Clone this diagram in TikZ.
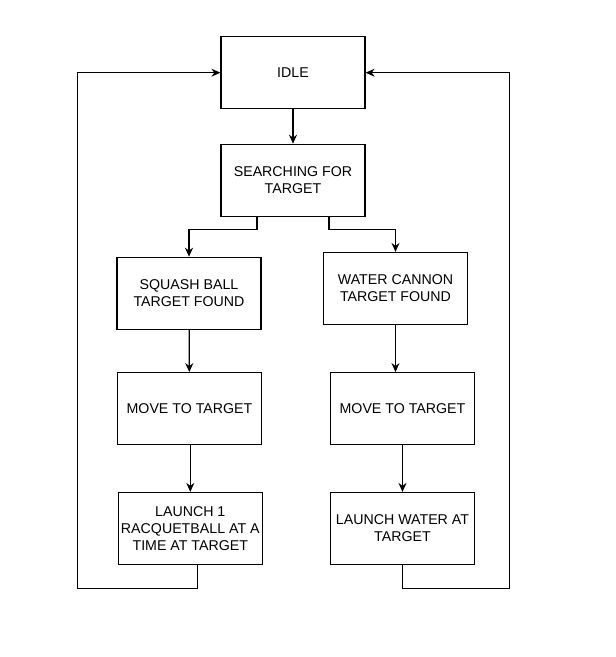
\documentclass[tikz,border=0pt]{standalone}
\usepackage{fontspec}
\setmainfont{Liberation Sans}
\usepackage{tikz}
\usetikzlibrary{positioning,calc,arrows.meta}

\begin{document}
\begin{tikzpicture}[x=1pt,y=-1pt,
    state/.style={draw, line width=1.2pt, minimum width=144pt, minimum height=72pt, align=center, inner xsep=0pt, inner ysep=2pt, font=\fontsize{14.2}{16.8}\selectfont},
    flow/.style={line width=1.2pt, -{Stealth[length=9pt,width=8pt]}}]
    \useasboundingbox (0,0) rectangle (616,657);
    \node[state] (idle) at (293,72.7) {IDLE};
    \node[state] (search) at (293,180.3) {SEARCHING FOR\\TARGET};
    \node[state] (squash) at (189,293.3) {SQUASH BALL\\TARGET FOUND};
    \node[state] (water) at (395.5,288.5) {WATER CANNON\\TARGET FOUND};
    \node[state] (moveL) at (189.5,408.7) {MOVE TO TARGET};
    \node[state] (moveR) at (402.5,408.7) {MOVE TO TARGET};
    \node[state] (launchL) at (190.3,528.5) {LAUNCH 1\\RACQUETBALL AT A\\TIME AT TARGET};
    \node[state] (launchR) at (402.5,528.5) {LAUNCH WATER AT\\TARGET};
    \coordinate (loopL) at (77.3,588.3);
    \coordinate (loopR) at (509.3,588.3);
    \draw[flow] (idle) -- (search);
    \draw[flow] ([xshift=-36pt]search.south) -- ++(0,12.7) -| (squash.north);
    \draw[flow] ([xshift=36pt]search.south) -- ++(0,12.7) -| (water.north);
    \draw[flow] (squash) -- (moveL);
    \draw[flow] (water.south) -- (water.south |- moveR.north);
    \draw[flow] (moveL.south -| launchL.north) -- (launchL.north);
    \draw[flow] (moveR) -- (launchR);
    \draw[flow] ([xshift=7pt]launchL.south) |- (loopL) |- (idle.west);
    \draw[flow] (launchR.south) |- (loopR) |- (idle.east);
\end{tikzpicture}
\end{document}
